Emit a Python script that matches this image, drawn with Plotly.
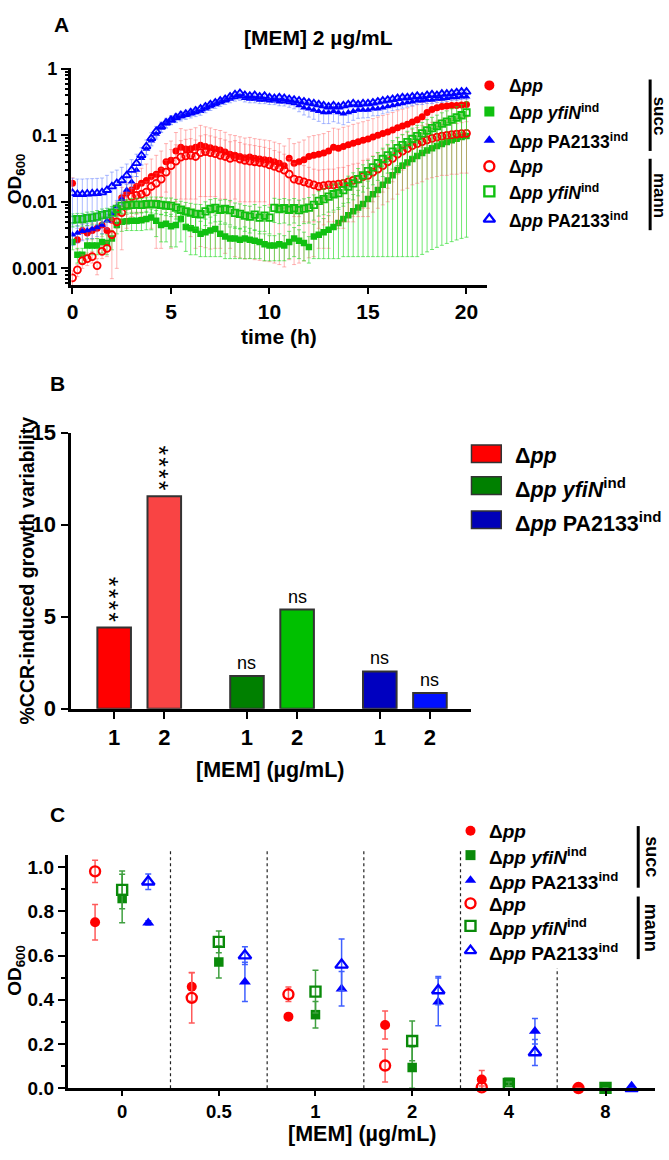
import plotly.graph_objects as go

W, H = 669, 1160
FONT = "Liberation Sans, Arial, sans-serif"

# ---------------- Panel A data: OD600 vs time, [MEM] 2 ug/mL ----------------
time_h = [k / 4 for k in range(81)]

od_succ_pp = [0.019, 0.0027, 0.0037, 0.0034, 0.0037, 0.004, 0.0045, 0.0037,
              0.0053, 0.007, 0.0115, 0.0135, 0.015, 0.017, 0.019, 0.021,
              0.024, 0.026, 0.030, 0.040, 0.042, 0.058, 0.066, 0.062,
              0.063, 0.066, 0.071, 0.068, 0.065, 0.062, 0.060, 0.056,
              0.052, 0.050, 0.048, 0.046, 0.047, 0.045, 0.044, 0.043,
              0.042, 0.040, 0.038, 0.035, 0.045, 0.038, 0.040, 0.043,
              0.048, 0.050, 0.052, 0.054, 0.058, 0.066, 0.064, 0.068,
              0.072, 0.076, 0.080, 0.084, 0.088, 0.094, 0.100, 0.106,
              0.112, 0.120, 0.130, 0.138, 0.146, 0.158, 0.172, 0.190,
              0.22, 0.245, 0.26, 0.27, 0.275, 0.28, 0.28, 0.285, 0.29]
sd_succ_pp = [0.004, 0.0008, 0.001, 0.001, 0.001, 0.0012, 0.0015, 0.0015,
              0.002, 0.003, 0.005, 0.006, 0.008, 0.010, 0.013, 0.016,
              0.020, 0.024, 0.028, 0.035, 0.040, 0.052, 0.060, 0.058,
              0.060, 0.064, 0.070, 0.066, 0.064, 0.060, 0.058, 0.055,
              0.050, 0.049, 0.047, 0.045, 0.046, 0.044, 0.043, 0.042,
              0.041, 0.039, 0.037, 0.034, 0.044, 0.037, 0.039, 0.042,
              0.047, 0.049, 0.050, 0.052, 0.056, 0.062, 0.060, 0.064,
              0.066, 0.070, 0.073, 0.076, 0.080, 0.084, 0.088, 0.092,
              0.096, 0.100, 0.104, 0.108, 0.112, 0.116, 0.120, 0.124,
              0.128, 0.130, 0.130, 0.130, 0.130, 0.130, 0.130, 0.130, 0.130]

od_mann_pp = [0.00072, 0.00095, 0.0013, 0.0014, 0.0015, 0.0011, 0.0018, 0.0020,
              0.0032, 0.005, 0.0069, 0.009, 0.012, 0.0125, 0.013, 0.014,
              0.017, 0.019, 0.022, 0.028, 0.035, 0.041, 0.047, 0.049,
              0.050, 0.048, 0.055, 0.057, 0.055, 0.053, 0.050, 0.048,
              0.045, 0.047, 0.044, 0.042, 0.041, 0.040, 0.039, 0.038,
              0.036, 0.034, 0.032, 0.030, 0.026, 0.022, 0.021, 0.020,
              0.019, 0.018, 0.017, 0.0175, 0.018, 0.018, 0.0185, 0.019,
              0.020, 0.021, 0.022, 0.024, 0.025, 0.028, 0.031, 0.035,
              0.040, 0.045, 0.052, 0.058, 0.063, 0.070, 0.075, 0.080,
              0.085, 0.090, 0.094, 0.097, 0.100, 0.102, 0.104, 0.106, 0.107]
sd_mann_pp = [0.0002, 0.0002, 0.0003, 0.0003, 0.0003, 0.0003, 0.0004, 0.0005,
              0.0025, 0.004, 0.005, 0.005, 0.006, 0.006, 0.006, 0.006,
              0.007, 0.008, 0.010, 0.014, 0.026, 0.031, 0.036, 0.038,
              0.039, 0.037, 0.043, 0.045, 0.043, 0.041, 0.039, 0.037,
              0.035, 0.036, 0.034, 0.032, 0.031, 0.030, 0.029, 0.028,
              0.027, 0.025, 0.024, 0.022, 0.019, 0.016, 0.015, 0.015,
              0.014, 0.013, 0.013, 0.013, 0.013, 0.013, 0.014, 0.014,
              0.015, 0.016, 0.016, 0.018, 0.019, 0.021, 0.023, 0.026,
              0.030, 0.034, 0.039, 0.043, 0.047, 0.052, 0.056, 0.060,
              0.063, 0.067, 0.070, 0.072, 0.075, 0.076, 0.078, 0.079, 0.080]

od_succ_yfiN = [0.0025, 0.0016, 0.0016, 0.0022, 0.0022, 0.0022, 0.0025, 0.0024,
                0.0028, 0.0045, 0.0050, 0.0051, 0.0052, 0.0052, 0.0053, 0.0055,
                0.0058, 0.0052, 0.0045, 0.0047, 0.0043, 0.0045, 0.0055, 0.0042,
                0.0040, 0.0038, 0.0033, 0.0035, 0.0037, 0.0039, 0.0033, 0.0030,
                0.0028, 0.0028, 0.0027, 0.0028, 0.0027, 0.0026, 0.0025, 0.0023,
                0.0022, 0.0022, 0.0023, 0.0022, 0.0025, 0.0028, 0.0026, 0.0024,
                0.0021, 0.0030, 0.0032, 0.0035, 0.0038, 0.0042, 0.0048, 0.0055,
                0.0063, 0.0072, 0.0082, 0.0093, 0.011, 0.013, 0.015, 0.018,
                0.021, 0.025, 0.030, 0.035, 0.039, 0.044, 0.049, 0.054,
                0.059, 0.064, 0.069, 0.074, 0.079, 0.084, 0.089, 0.094, 0.098]
sd_succ_yfiN = [0.0006, 0.0004, 0.0004, 0.0006, 0.0006, 0.0006, 0.0008, 0.0008,
                0.0009, 0.0012, 0.0014, 0.0014, 0.0015, 0.0015, 0.0016, 0.0017,
                0.0020, 0.0022, 0.0020, 0.0022, 0.0022, 0.0024, 0.0030, 0.0024,
                0.0024, 0.0022, 0.0018, 0.0020, 0.0022, 0.0024, 0.0018, 0.0016,
                0.0014, 0.0014, 0.0013, 0.0014, 0.0013, 0.0012, 0.0011, 0.0010,
                0.0009, 0.0009, 0.0010, 0.0009, 0.0011, 0.0013, 0.0012, 0.0011,
                0.0009, 0.0016, 0.0018, 0.0021, 0.0024, 0.0028, 0.0034, 0.0040,
                0.0048, 0.0057, 0.0067, 0.0078, 0.0095, 0.0115, 0.0135, 0.0165,
                0.0195, 0.0235, 0.0285, 0.0335, 0.0375, 0.0425, 0.0475, 0.0525,
                0.0575, 0.0625, 0.0675, 0.0725, 0.0775, 0.0825, 0.0875, 0.0925, 0.0965]

od_mann_yfiN = [0.0054, 0.0055, 0.0055, 0.0057, 0.0058, 0.0060, 0.0063, 0.0065,
                0.0069, 0.0078, 0.0087, 0.0088, 0.0090, 0.0091, 0.0090, 0.0092,
                0.0093, 0.0092, 0.0090, 0.0088, 0.0087, 0.0082, 0.0076, 0.0072,
                0.0069, 0.0066, 0.0065, 0.0072, 0.0078, 0.0081, 0.0076, 0.0078,
                0.0075, 0.0068, 0.0066, 0.0062, 0.0060, 0.0064, 0.0058, 0.0062,
                0.0058, 0.0081, 0.0078, 0.0080, 0.0076, 0.0080, 0.0075, 0.0079,
                0.0082, 0.0090, 0.0103, 0.0110, 0.0120, 0.0130, 0.0135, 0.0150,
                0.017, 0.019, 0.022, 0.025, 0.029, 0.033, 0.038, 0.044,
                0.050, 0.057, 0.064, 0.071, 0.079, 0.088, 0.097, 0.107,
                0.118, 0.128, 0.138, 0.150, 0.160, 0.172, 0.185, 0.200, 0.22]
sd_mann_yfiN = [0.0012, 0.0012, 0.0012, 0.0013, 0.0013, 0.0014, 0.0015, 0.0015,
                0.0016, 0.0018, 0.0020, 0.0020, 0.0022, 0.0022, 0.0022, 0.0023,
                0.0025, 0.0026, 0.0026, 0.0026, 0.0027, 0.0027, 0.0026, 0.0026,
                0.0026, 0.0026, 0.0026, 0.0028, 0.0030, 0.0031, 0.0030, 0.0030,
                0.0030, 0.0028, 0.0027, 0.0026, 0.0026, 0.0027, 0.0025, 0.0026,
                0.0025, 0.0032, 0.0031, 0.0032, 0.0031, 0.0032, 0.0031, 0.0032,
                0.0034, 0.0037, 0.0042, 0.0046, 0.0050, 0.0055, 0.0058, 0.0064,
                0.0073, 0.0083, 0.0097, 0.0110, 0.013, 0.015, 0.017, 0.020,
                0.023, 0.026, 0.029, 0.032, 0.036, 0.040, 0.044, 0.049,
                0.054, 0.058, 0.063, 0.068, 0.073, 0.078, 0.084, 0.090, 0.100]

od_succ_PA = [0.0032, 0.0034, 0.0036, 0.0037, 0.0039, 0.0041, 0.0045, 0.0052,
              0.0065, 0.0085, 0.011, 0.015, 0.020, 0.030, 0.045, 0.062,
              0.083, 0.105, 0.130, 0.150, 0.17, 0.18, 0.19, 0.20,
              0.21, 0.22, 0.23, 0.25, 0.27, 0.29, 0.31, 0.33,
              0.35, 0.37, 0.38, 0.36, 0.35, 0.35, 0.34, 0.34,
              0.33, 0.33, 0.32, 0.32, 0.31, 0.30, 0.28, 0.26,
              0.25, 0.24, 0.23, 0.22, 0.22, 0.23, 0.22, 0.21,
              0.22, 0.23, 0.24, 0.24, 0.24, 0.25, 0.25, 0.26,
              0.27, 0.28, 0.29, 0.30, 0.31, 0.32, 0.33, 0.33,
              0.34, 0.34, 0.35, 0.35, 0.36, 0.37, 0.37, 0.38, 0.38]
sd_succ_PA = [0.0010, 0.0010, 0.0010, 0.0010, 0.0011, 0.0011, 0.0012, 0.0013,
              0.0016, 0.0020, 0.0025, 0.0032, 0.0042, 0.0060, 0.0085, 0.0110,
              0.014, 0.017, 0.020, 0.022, 0.024, 0.025, 0.026, 0.027,
              0.028, 0.029, 0.030, 0.032, 0.034, 0.036, 0.038, 0.040,
              0.042, 0.044, 0.045, 0.043, 0.042, 0.042, 0.041, 0.041,
              0.040, 0.041, 0.042, 0.044, 0.046, 0.050, 0.054, 0.058,
              0.062, 0.066, 0.068, 0.070, 0.070, 0.070, 0.068, 0.066,
              0.064, 0.062, 0.060, 0.058, 0.056, 0.054, 0.052, 0.050,
              0.048, 0.046, 0.045, 0.044, 0.043, 0.042, 0.041, 0.040,
              0.040, 0.039, 0.039, 0.038, 0.038, 0.038, 0.037, 0.037, 0.037]

od_mann_PA = [0.0135, 0.0130, 0.0130, 0.0132, 0.0133, 0.0135, 0.0138, 0.0150,
              0.017, 0.019, 0.021, 0.025, 0.030, 0.038, 0.050, 0.068,
              0.090, 0.115, 0.135, 0.155, 0.17, 0.185, 0.20, 0.21,
              0.22, 0.235, 0.25, 0.27, 0.29, 0.31, 0.33, 0.35,
              0.38, 0.41, 0.43, 0.40, 0.39, 0.40, 0.38, 0.39,
              0.37, 0.36, 0.37, 0.36, 0.35, 0.34, 0.33, 0.32,
              0.31, 0.30, 0.29, 0.28, 0.27, 0.28, 0.27, 0.28,
              0.29, 0.30, 0.29, 0.30, 0.30, 0.31, 0.32, 0.33,
              0.34, 0.35, 0.36, 0.37, 0.37, 0.38, 0.39, 0.38,
              0.40, 0.41, 0.40, 0.42, 0.42, 0.43, 0.44, 0.45, 0.45]
sd_mann_PA = [0.009, 0.009, 0.009, 0.009, 0.009, 0.009, 0.009, 0.010,
              0.011, 0.011, 0.012, 0.012, 0.013, 0.014, 0.015, 0.017,
              0.019, 0.021, 0.023, 0.025, 0.026, 0.027, 0.028, 0.028,
              0.029, 0.030, 0.030, 0.031, 0.032, 0.033, 0.034, 0.035,
              0.036, 0.037, 0.038, 0.037, 0.036, 0.037, 0.036, 0.036,
              0.035, 0.035, 0.035, 0.034, 0.034, 0.033, 0.033, 0.032,
              0.032, 0.031, 0.031, 0.030, 0.030, 0.030, 0.030, 0.030,
              0.031, 0.031, 0.031, 0.031, 0.032, 0.032, 0.033, 0.033,
              0.034, 0.034, 0.035, 0.035, 0.036, 0.036, 0.037, 0.037,
              0.038, 0.038, 0.038, 0.039, 0.039, 0.040, 0.040, 0.041, 0.041]

# ---------------- Panel B data: %CCR-induced growth variability ----------------
strains_B = ["pp", "yfiN", "PA2133"]
doses_B = ["1", "2"]
ccr_pp = [4.41, 11.55]
ccr_yfiN = [1.77, 5.39]
ccr_PA = [2.02, 0.85]
sig_pp = ["****", "****"]
sig_yfiN = ["ns", "ns"]
sig_PA = ["ns", "ns"]

# ---------------- Panel C data: OD600 vs [MEM] ----------------
doses_C = ["0", "0.5", "1", "2", "4", "8"]
c_succ_pp = [0.751, 0.459, 0.324, 0.286, 0.040, 0.001]
c_succ_pp_sd = [0.080, 0.065, 0.005, 0.063, 0.041, 0.0]
c_mann_pp = [0.981, 0.409, 0.425, 0.103, 0.004, 0.001]
c_mann_pp_sd = [0.050, 0.114, 0.033, 0.074, 0.006, 0.0]
c_succ_yfiN = [0.858, 0.571, 0.333, 0.094, 0.027, 0.002]
c_succ_yfiN_sd = [0.110, 0.072, 0.060, 0.094, 0.010, 0.0]
c_mann_yfiN = [0.897, 0.662, 0.437, 0.214, 0.020, 0.002]
c_mann_yfiN_sd = [0.085, 0.049, 0.097, 0.090, 0.008, 0.0]
c_succ_PA = [0.748, 0.481, 0.450, 0.391, 0.258, 0.0]
c_succ_PA_sd = [0.010, 0.089, 0.078, 0.108, 0.058, 0.0]
c_mann_PA = [0.934, 0.600, 0.558, 0.442, 0.162, 0.0]
c_mann_PA_sd = [0.035, 0.040, 0.117, 0.064, 0.059, 0.0]

# ---------------- helpers ----------------
def px(x):
    return x / W


def py(y):
    return 1 - y / H


RED = "#ff0000"
GREEN_A = "#10c010"
GREEN_C = "#0a8a0a"
BLUE = "#0000ff"

LBL_PP = "<b>Δ<i>pp</i></b>"
LBL_YFIN = "<b>Δ<i>pp yfiN</i><sup>ind</sup></b>"
LBL_PA = "<b>Δ<i>pp</i> PA2133<sup>ind</sup></b>"

fig = go.Figure()

# ---------------- Panel A traces ----------------
series_A = [
    (od_succ_pp, sd_succ_pp, "circle", RED, "rgba(255,90,90,0.45)", 7),
    (od_succ_yfiN, sd_succ_yfiN, "square", GREEN_A, "rgba(40,220,40,0.65)", 6.5),
    (od_succ_PA, sd_succ_PA, "triangle-up", BLUE, "rgba(90,120,255,0.5)", 7),
    (od_mann_pp, sd_mann_pp, "circle-open", RED, "rgba(255,90,90,0.45)", 7),
    (od_mann_yfiN, sd_mann_yfiN, "square-open", GREEN_A, "rgba(40,220,40,0.65)", 6.5),
    (od_mann_PA, sd_mann_PA, "triangle-up-open", BLUE, "rgba(90,120,255,0.5)", 7.5),
]
for vals, sd, sym, col, ecol, size in series_A:
    minus = [min(e, 0.97 * v) for v, e in zip(vals, sd)]
    fig.add_trace(go.Scatter(
        x=time_h, y=vals, mode="markers", xaxis="x", yaxis="y",
        marker=dict(symbol=sym, size=size, color=col,
                    line=dict(color=col, width=1.8 if "open" in sym else 0)),
        error_y=dict(type="data", symmetric=False, array=sd, arrayminus=minus,
                     color=ecol, thickness=1, width=2),
    ))

# ---------------- Panel B traces ----------------
GROUP_GAP = 2.65
bar_x, bar_y, bar_text, tick_txt = [], [], [], []
for gi, (vals, sig) in enumerate([(ccr_pp, sig_pp), (ccr_yfiN, sig_yfiN), (ccr_PA, sig_PA)]):
    for di, d in enumerate(doses_B):
        bar_x.append(gi * GROUP_GAP + di)
        bar_y.append(vals[di])
        bar_text.append(sig[di])
        tick_txt.append(d)
bar_colors = ["#ff0000", "#f94444", "#008000", "#00c000", "#0000c0", "#0010ff"]
fig.add_trace(go.Bar(
    x=bar_x, y=bar_y, width=0.67, xaxis="x2", yaxis="y2",
    marker=dict(color=bar_colors, line=dict(color="#333333", width=2)),
))

# ---------------- Panel C traces ----------------
OFF = {"pp": -0.28, "yfiN": 0.0, "PA": 0.27}
series_C = [
    (c_succ_pp, c_succ_pp_sd, "pp", "circle", RED, "#ff5a5a", 10),
    (c_succ_yfiN, c_succ_yfiN_sd, "yfiN", "square", GREEN_C, "#40a040", 9.5),
    (c_succ_PA, c_succ_PA_sd, "PA", "triangle-up", BLUE, "#4060ff", 10.5),
    (c_mann_pp, c_mann_pp_sd, "pp", "circle-open", RED, "#ff5a5a", 10),
    (c_mann_yfiN, c_mann_yfiN_sd, "yfiN", "square-open", GREEN_C, "#40a040", 10),
    (c_mann_PA, c_mann_PA_sd, "PA", "triangle-up-open", BLUE, "#4060ff", 11),
]
for vals, sd, strain, sym, col, ecol, size in series_C:
    fig.add_trace(go.Scatter(
        x=[i + OFF[strain] for i in range(len(doses_C))], y=vals,
        mode="markers", xaxis="x3", yaxis="y3", cliponaxis=False,
        marker=dict(symbol=sym, size=size, color=col,
                    line=dict(color=col, width=2.4 if "open" in sym else 0)),
        error_y=dict(type="data", array=sd, color=ecol, thickness=1.5, width=3),
    ))

# ---------------- manual legends (markers on an overlay pixel axis) ----------------
legA_rows = [75, 101.7, 131, 157.7, 183.3, 211.7]
legC_rows = [836.7, 861.7, 887.3, 911, 934, 959.3]
leg_syms = ["circle", "square", "triangle-up", "circle-open", "square-open", "triangle-up-open"]
legA_cols = [RED, GREEN_A, BLUE, RED, GREEN_A, BLUE]
legC_cols = [RED, GREEN_C, BLUE, RED, GREEN_C, BLUE]
for xs, rows, cols, size in [(488, legA_rows, legA_cols, 10), (469, legC_rows, legC_cols, 10)]:
    for r, s, c in zip(rows, leg_syms, cols):
        fig.add_trace(go.Scatter(
            x=[xs], y=[r], mode="markers", xaxis="x4", yaxis="y4",
            marker=dict(symbol=s, size=size, color=c,
                        line=dict(color=c, width=2.4 if "open" in s else 0)),
        ))

annotations = []


def ann(text, x, y, size, xanchor="center", yanchor="middle", angle=0, bold=True, **kw):
    d = dict(text=text, x=px(x), y=py(y), xref="paper", yref="paper", showarrow=False,
             xanchor=xanchor, yanchor=yanchor, textangle=angle,
             font=dict(family=FONT, size=size, color="black", weight="bold" if bold else "normal"))
    d.update(kw)
    annotations.append(d)


# panel letters / titles
ann("A", 57, 13, 21)
ann("B", 53, 380, 21)
ann("C", 53, 820, 21)
ann("[MEM] 2 µg/mL", 316, 26, 21)
ann("time (h)", 276, 332, 21)
ann("<b>OD</b><sub>600</sub>", 11, 170, 19, angle=-90)
ann("%CCR-induced growth variability", 22, 571, 19.5, angle=-90)
ann("[MEM] (µg/mL)", 267, 775, 21.5)
ann("[MEM] (µg/mL)", 360, 1147, 21.5)
ann("<b>OD</b><sub>600</sub>", 11, 979, 19, angle=-90)

labels = [LBL_PP, LBL_YFIN, LBL_PA, LBL_PP, LBL_YFIN, LBL_PA]
for r, t in zip(legA_rows, labels):
    ann(t, 506, r + 1, 17.5, xanchor="left")
for r, t in zip(legC_rows, labels):
    ann(t, 486, r + 1, 19, xanchor="left")
ann("succ", 659, 106, 17, angle=90)
ann("mann", 659, 187, 17, angle=90)
ann("succ", 651, 863, 18, angle=90)
ann("mann", 651, 936, 18, angle=90)

# B legend
legB_rows = [451.5, 484, 519]
legB_cols = ["#ff0000", "#008000", "#0000b8"]
for r, t in zip(legB_rows, [LBL_PP, LBL_YFIN, LBL_PA]):
    ann(t, 512, r + 2, 21.5, xanchor="left")

# B significance labels
STARS = "\u200a".join("*" * 4)
for xb, yb, t in zip(bar_x, bar_y, bar_text):
    if t == "ns":
        annotations.append(dict(text="ns", x=xb, y=yb, xref="x2", yref="y2", showarrow=False,
                                xanchor="center", yanchor="bottom", yshift=1,
                                font=dict(family=FONT, size=18, color="black")))
    else:
        annotations.append(dict(text=STARS, x=xb, y=yb, xref="x2", yref="y2", showarrow=False,
                                xanchor="center", yanchor="bottom", yshift=4, xshift=-5,
                                textangle=90,
                                font=dict(family=FONT, size=25, color="black")))

shapes = []
# brackets
for x, y0, y1 in [(650, 69, 142), (650, 150, 223), (638, 832, 895), (638, 904, 968)]:
    shapes.append(dict(type="line", xref="paper", yref="paper", x0=px(x), x1=px(x),
                       y0=py(y0), y1=py(y1), line=dict(color="black", width=3)))
# B legend boxes
for r, c in zip(legB_rows, legB_cols):
    shapes.append(dict(type="rect", xref="paper", yref="paper", x0=px(470), x1=px(500),
                       y0=py(r - 9), y1=py(r + 9), fillcolor=c,
                       line=dict(color="#333333", width=1.5)))
# C dotted separators between dose groups
for i in range(len(doses_C) - 1):
    top = 856 if i < len(doses_C) - 2 else 977
    shapes.append(dict(type="line", xref="x3", yref="paper", x0=i + 0.5, x1=i + 0.5,
                       y0=py(1100), y1=py(top), layer="below",
                       line=dict(color="#222222", width=1.2, dash="dot")))

tickfont = lambda s: dict(family=FONT, size=s, color="black", weight="bold")
axis_base = dict(showline=True, linecolor="black", linewidth=2.5, ticks="outside",
                 tickcolor="black", tickwidth=2, showgrid=False, zeroline=False)

minor_log = [m * 10 ** e for e in range(-4, 1) for m in range(2, 10)]

fig.update_layout(
    width=W, height=H, margin=dict(l=0, r=0, t=0, b=0),
    paper_bgcolor="white", plot_bgcolor="rgba(0,0,0,0)", showlegend=False,
    xaxis=dict(axis_base, domain=[px(67), px(486)], anchor="y", range=[-0.05, 21.06],
               tickvals=[0, 5, 10, 15, 20], ticklen=6, tickfont=tickfont(21)),
    yaxis=dict(axis_base, domain=[py(279), py(57)], anchor="x", type="log",
               range=[-3.25, 0.015], tickvals=[0.001, 0.01, 0.1, 1],
               ticktext=["0.001", "0.01", "0.1", "1"], ticklen=8, tickfont=tickfont(18),
               minor=dict(tickmode="array", tickvals=minor_log, ticks="outside", ticklen=4,
                          tickwidth=1.5, tickcolor="black", showgrid=False)),
    xaxis2=dict(axis_base, domain=[px(66), px(470)], anchor="y2", range=[-0.871, 7.129],
                tickvals=bar_x, ticktext=tick_txt, ticklen=7, linewidth=3,
                tickfont=tickfont(22)),
    yaxis2=dict(axis_base, domain=[py(712), py(430)], anchor="x2", range=[0, 15],
                tickvals=[0, 5, 10, 15], ticklen=7, linewidth=3, tickfont=tickfont(22)),
    xaxis3=dict(axis_base, domain=[px(63), px(655)], anchor="y3", range=[-0.565, 5.513],
                tickvals=list(range(len(doses_C))), ticktext=doses_C, ticklen=5,
                linewidth=3, tickfont=tickfont(18.5)),
    yaxis3=dict(axis_base, domain=[py(1100), py(862)], anchor="x3", range=[0, 1.053],
                tick0=0, dtick=0.2, tickformat=".1f", ticklen=7, linewidth=2.5,
                tickfont=tickfont(19),
                minor=dict(dtick=0.1, ticks="outside", ticklen=4, tickwidth=1.5,
                           tickcolor="black", showgrid=False)),
    xaxis4=dict(domain=[0, 1], anchor="y4", range=[0, W], visible=False, fixedrange=True),
    yaxis4=dict(domain=[0, 1], anchor="x4", range=[H, 0], visible=False, fixedrange=True),
    annotations=annotations, shapes=shapes,
)

fig.write_html("out.html")
